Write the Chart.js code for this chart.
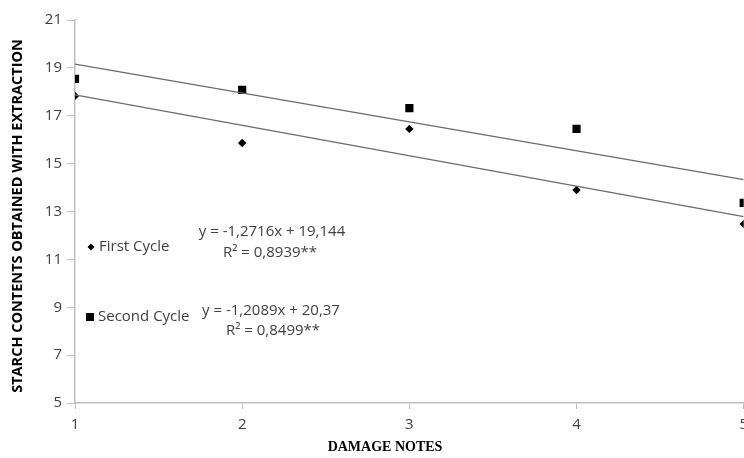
<!DOCTYPE html>
<html>
<head>
<meta charset="utf-8">
<script src="https://cdn.jsdelivr.net/npm/chart.js@4"></script>
<style>
html,body{margin:0;padding:0;background:#fff;overflow:hidden;}
#wrap{width:755px;height:458px;position:relative;}
</style>
</head>
<body>
<div id="wrap"><canvas id="c"></canvas></div>
<script>
// Data
const damageNotes = [1, 2, 3, 4, 5];
const firstCycle = [17.83, 15.86, 16.45, 13.90, 12.48];
const secondCycle = [18.54, 18.08, 17.32, 16.45, 13.36];
// Trend lines (endpoints at notes 1 and 5, as drawn)
const trendX = [1, 5];
const firstTrend = [17.87, 12.79];
const secondTrend = [19.16, 14.33];
const yTicks = [5, 7, 9, 11, 13, 15, 17, 19, 21];
const xTitle = 'DAMAGE NOTES';
const yTitle = 'STARCH CONTENTS OBTAINED WITH EXTRACTION';
const legendFirst = 'First Cycle';
const legendSecond = 'Second Cycle';
const eqFirst = ['y = -1,2716x + 19,144', 'R\u00B2 = 0,8939**'];
const eqSecond = ['y = -1,2089x + 20,37', 'R\u00B2 = 0,8499**'];

const toPts = (xs, ys) => xs.map((x, i) => ({x: x, y: ys[i]}));

const annot = {
  id: 'annot',
  afterDraw(chart) {
    const ctx = chart.ctx;
    ctx.save();
    // axis titles
    ctx.fillStyle = '#000';
    ctx.textAlign = 'center';
    ctx.textBaseline = 'middle';
    ctx.font = 'bold 14px "Liberation Serif", "Times New Roman", serif';
    ctx.fillText(xTitle, 385, 447);
    ctx.save();
    ctx.translate(18, 216);
    ctx.rotate(-Math.PI / 2);
    ctx.font = 'bold 14.5px "Open Sans", sans-serif';
    ctx.fillText(yTitle, 0, 0);
    ctx.restore();
    // legend-like labels
    ctx.fillStyle = '#404040';
    ctx.font = '15px "Open Sans", sans-serif';
    ctx.textAlign = 'left';
    ctx.fillText(legendFirst, 99, 247);
    ctx.fillText(legendSecond, 98, 317);
    // markers
    ctx.fillStyle = '#000';
    ctx.beginPath();
    ctx.moveTo(91, 243.5); ctx.lineTo(94.5, 247); ctx.lineTo(91, 250.5); ctx.lineTo(87.5, 247); ctx.closePath();
    ctx.fill();
    ctx.fillRect(86, 313, 8, 8);
    // equations
    ctx.fillStyle = '#404040';
    ctx.textAlign = 'center';
    ctx.fillText(eqFirst[0], 272, 232);
    ctx.fillText(eqFirst[1], 270, 253);
    ctx.fillText(eqSecond[0], 271, 311);
    ctx.fillText(eqSecond[1], 273, 331);
    ctx.restore();
  }
};

new Chart(document.getElementById('c'), {
  type: 'scatter',
  data: {
    datasets: [
      {label: 'First Cycle trend', data: toPts(trendX, firstTrend), showLine: true, borderColor: '#6b6b6b', borderWidth: 1.3, pointRadius: 0, fill: false},
      {label: 'Second Cycle trend', data: toPts(trendX, secondTrend), showLine: true, borderColor: '#6b6b6b', borderWidth: 1.3, pointRadius: 0, fill: false},
      {label: legendFirst, data: toPts(damageNotes, firstCycle), pointStyle: 'rectRot', pointRadius: 4.2, backgroundColor: '#000', borderColor: '#000', borderWidth: 0},
      {label: legendSecond, data: toPts(damageNotes, secondCycle), pointStyle: 'rect', pointRadius: 5.8, backgroundColor: '#000', borderColor: '#000', borderWidth: 0}
    ]
  },
  options: {
    responsive: true,
    maintainAspectRatio: false,
    animation: false,
    layout: {padding: {top: 20, right: 0, bottom: 0, left: 0}},
    plugins: {legend: {display: false}, tooltip: {enabled: false}},
    scales: {
      x: {
        type: 'linear', min: 1, max: 5,
        afterBuildTicks: s => { s.ticks = damageNotes.map(v => ({value: v})); },
        afterFit: s => { s.height = 55; },
        grid: {drawOnChartArea: false, drawTicks: true, tickLength: 6, color: '#bfbfbf', lineWidth: 1},
        border: {color: '#bfbfbf', width: 1.5},
        ticks: {color: '#404040', font: {family: 'Open Sans', size: 15}, padding: 7}
      },
      y: {
        type: 'linear', min: 5, max: 21,
        afterBuildTicks: s => { s.ticks = yTicks.map(v => ({value: v})); },
        afterFit: s => { s.width = 75; },
        grid: {drawOnChartArea: false, drawTicks: true, tickLength: 8, color: '#bfbfbf', lineWidth: 1},
        border: {color: '#bfbfbf', width: 1.5},
        ticks: {color: '#404040', font: {family: 'Open Sans', size: 15}, padding: 5}
      }
    }
  },
  plugins: [annot]
});
</script>
</body>
</html>
